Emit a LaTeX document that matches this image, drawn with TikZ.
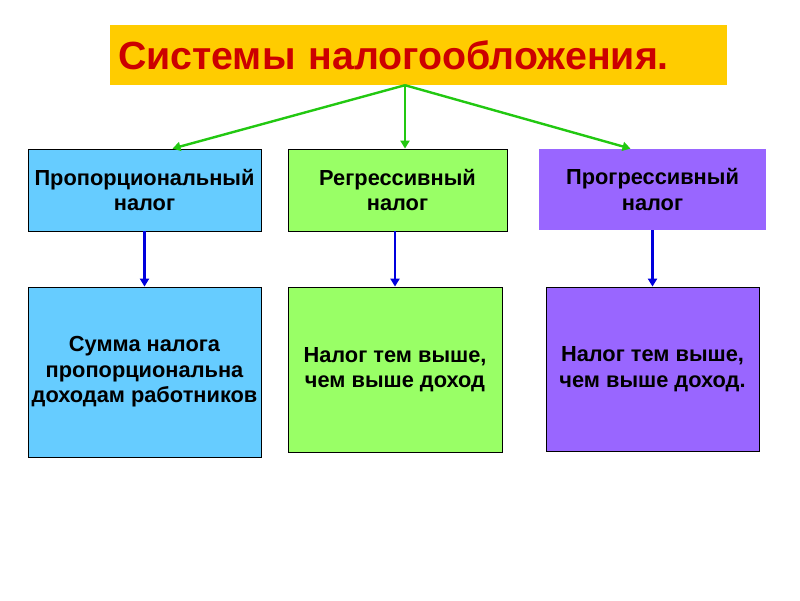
\documentclass[tikz,border=0pt]{standalone}
\usepackage{fontspec}
\setmainfont{Liberation Sans}
\usetikzlibrary{arrows.meta,calc}

\definecolor{titlebg}{HTML}{FFCC00}
\definecolor{titlered}{HTML}{CC0000}
\definecolor{propblue}{HTML}{66CCFF}
\definecolor{reggreen}{HTML}{99FF66}
\definecolor{progviolet}{HTML}{9966FF}
\definecolor{arrgreen}{HTML}{22C811}
\definecolor{arrblue}{HTML}{0000DD}

\tikzset{
  titlebox/.style={fill=titlebg, inner xsep=8pt, inner ysep=0pt, text width=601pt, align=left,
    minimum height=60pt, text=titlered, font=\bfseries\fontsize{39.3}{44}\selectfont},
  taxbox/.style={draw=black, line width=0.8pt, align=center, inner sep=0pt,
    font=\bfseries\fontsize{21.8}{25.5}\selectfont},
  greenarr/.style={draw=arrgreen, line width=2.4pt, -{Triangle[length=8pt,width=9pt]}},
  bluearr/.style={draw=arrblue, line width=2.8pt, -{Triangle[length=8pt,width=9pt]}}
}

\begin{document}
\begin{tikzpicture}[x=1pt,y=-1pt]
\useasboundingbox[fill=white] (0,0) rectangle (800,600);

\node[titlebox] (title) at (418.5,55) {Системы налогообложения.};

% kinds of tax
\node[taxbox, fill=propblue, minimum width=233pt, minimum height=82pt] (p1) at (144.5,190) {Пропорциональный\\налог};
\node[taxbox, fill=reggreen, minimum width=219pt, minimum height=82pt] (p2) at (397.5,190) {Регрессивный\\налог};
\node[taxbox, draw=none, fill=progviolet, minimum width=227pt, minimum height=81pt] (p3) at (652.5,189.5) {Прогрессивный\\налог};

% what they mean
\node[taxbox, fill=propblue, minimum width=233pt, minimum height=170pt] (s1) at (144.5,372) {Сумма налога\\пропорциональна\\доходам работников};
\node[taxbox, fill=reggreen, minimum width=214pt, minimum height=165pt] (s2) at (395,369.5) {Налог тем выше,\\чем выше доход};
\node[taxbox, fill=progviolet, minimum width=213pt, minimum height=164pt] (s3) at (652.5,369) {Налог тем выше,\\чем выше доход.};

\coordinate (fork) at ($(title.south)+(-13.5,0)$);
\draw[greenarr] (fork) -- ($(p1.north)+(28,0)$);
\draw[greenarr] (fork) -- (p2.north -| fork);
\draw[greenarr] (fork) -- ($(p3.north)+(-22,0)$);

\foreach \i in {1,2,3} % down arrows
\draw[bluearr] (s\i.north |- p\i.south) -- (s\i.north);
\end{tikzpicture}
\end{document}
